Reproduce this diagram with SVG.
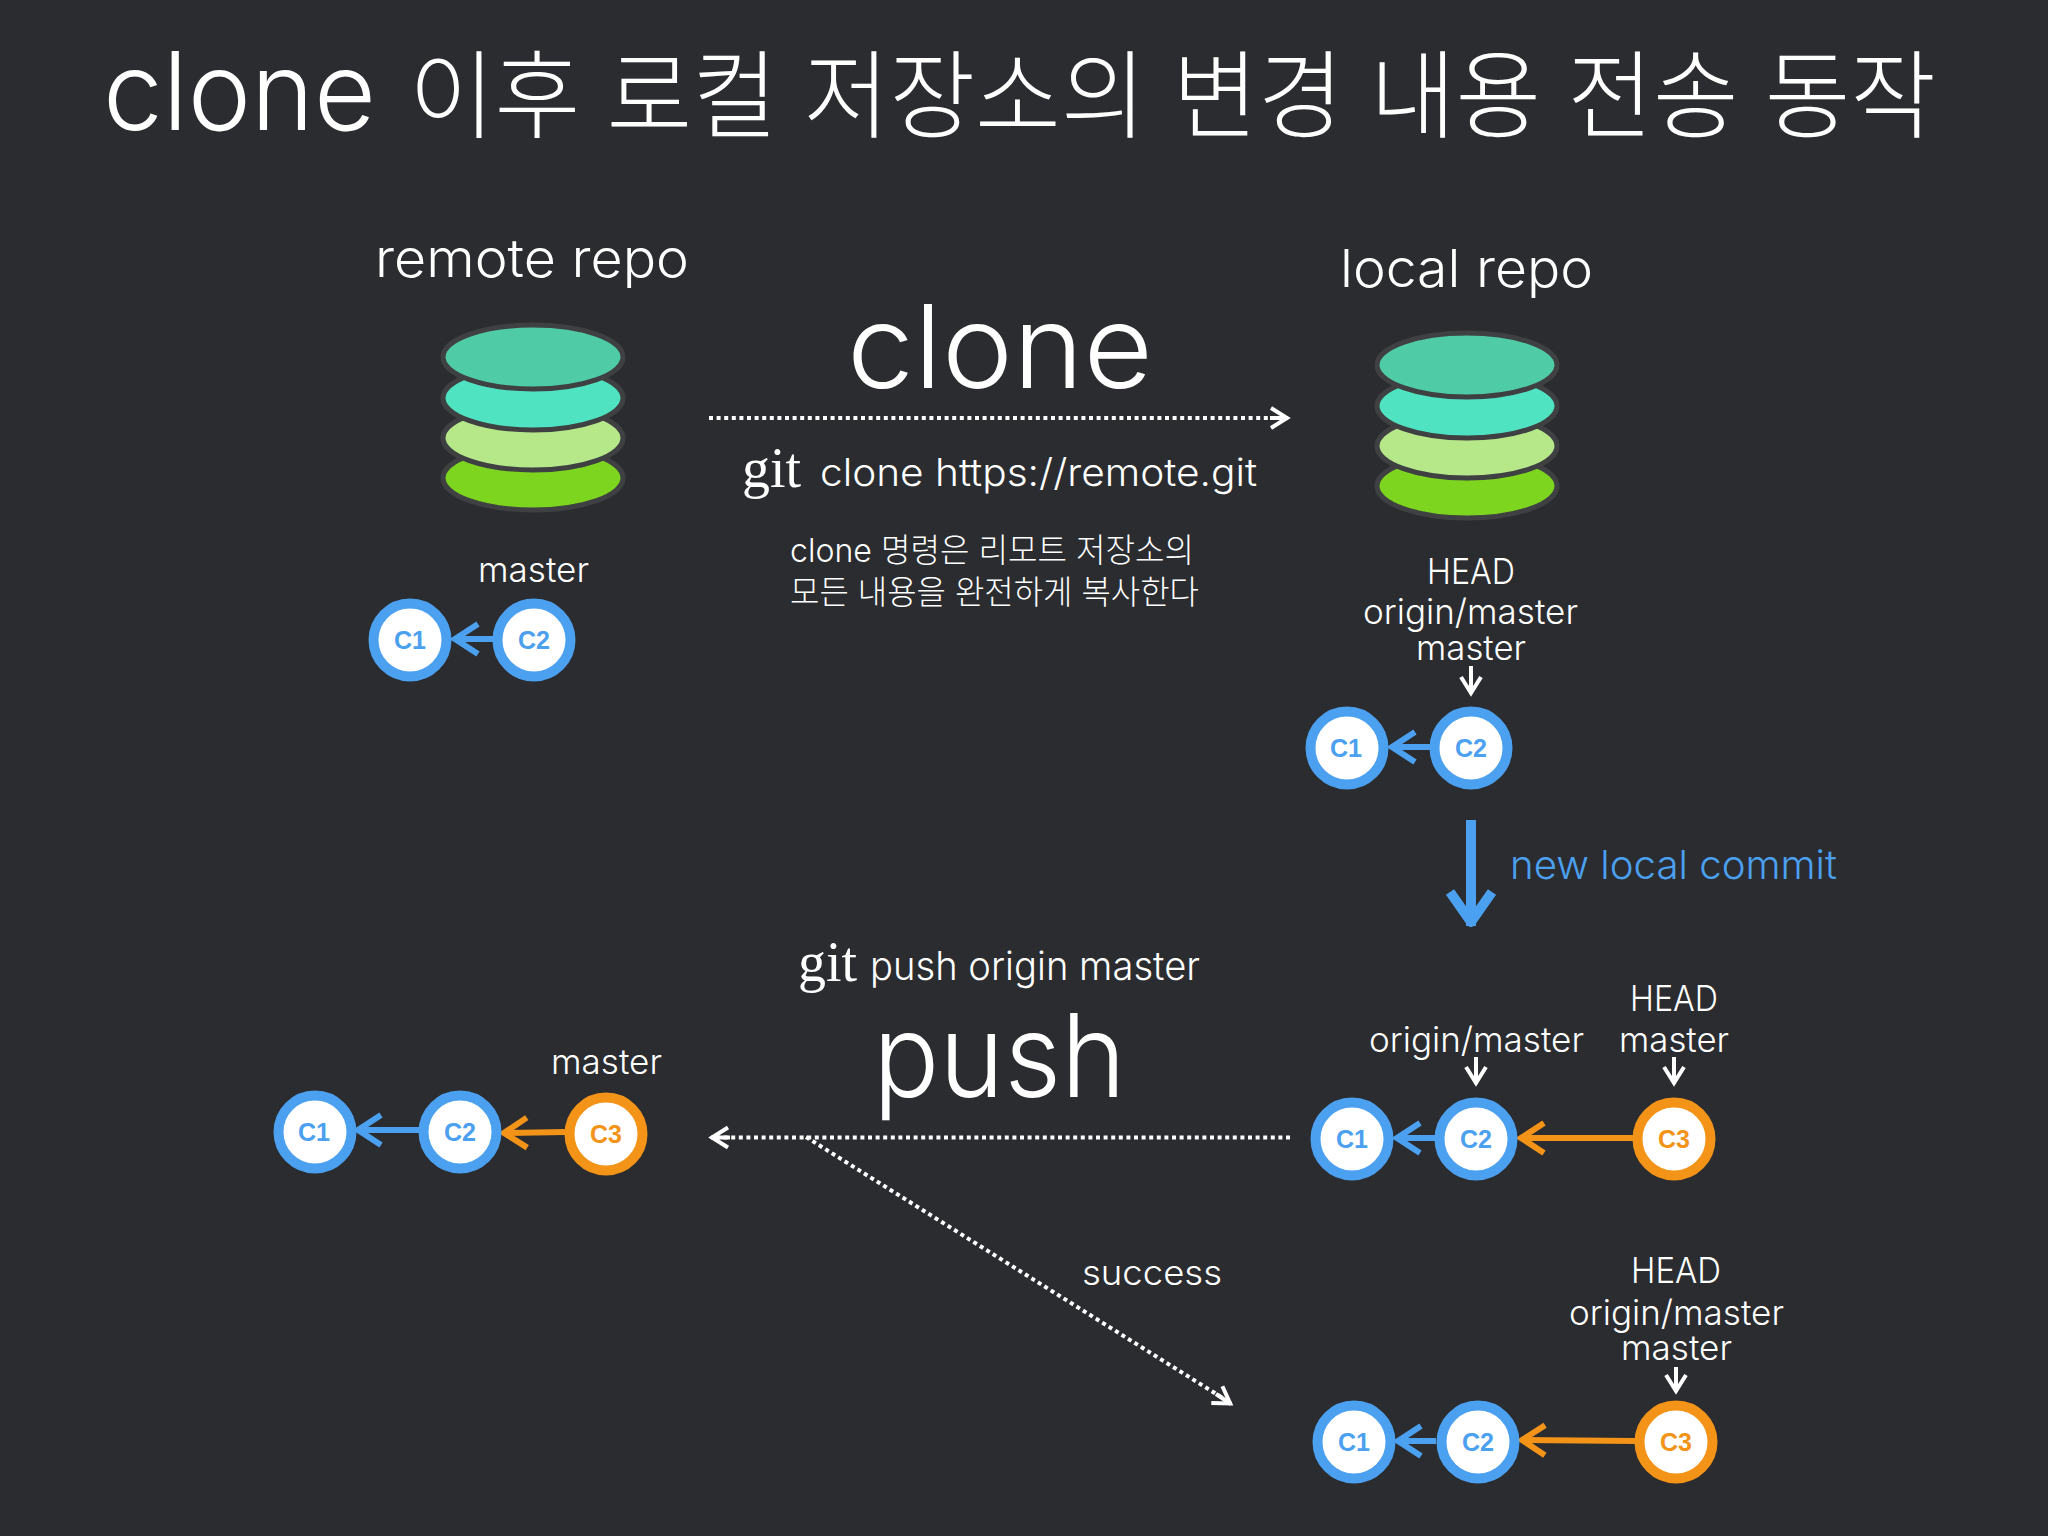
<svg xmlns="http://www.w3.org/2000/svg" width="2048" height="1536" viewBox="0 0 2048 1536">
<style>
text{font-family:"Inter","Noto Sans CJK KR",sans-serif;font-weight:300;fill:#fff}
.git{font-family:"Liberation Serif",serif;font-weight:400}
.lbl{font-size:35px}
.ring{fill:#fff;stroke-width:10}
.blue .ring{stroke:#4ca0f0}.orange .ring{stroke:#f39318}
.cm{font-family:"Liberation Sans",sans-serif;font-weight:700;font-size:25px;text-anchor:middle}
.blue .cm{fill:#4ca0f0}.orange .cm{fill:#f39318}
.d{fill:none;stroke:#fff;stroke-width:4;stroke-dasharray:4 3.6}
.w{fill:none;stroke:#fff;stroke-width:4}
.l{fill:none;stroke-width:6}
.lb{stroke:#4ca0f0}.lo{stroke:#f39318}
.db ellipse{stroke:#3f4042;stroke-width:5}
</style>
<defs>
<marker id="mb" markerUnits="userSpaceOnUse" markerWidth="32" markerHeight="40" viewBox="0 0 32 40" refX="29" refY="20" orient="auto"><path d="M5 5L28 20L5 35" fill="none" stroke="#4ca0f0" stroke-width="6"/></marker>
<marker id="mo" markerUnits="userSpaceOnUse" markerWidth="32" markerHeight="40" viewBox="0 0 32 40" refX="29" refY="20" orient="auto"><path d="M5 5L28 20L5 35" fill="none" stroke="#f39318" stroke-width="6"/></marker>
<marker id="mw" markerUnits="userSpaceOnUse" markerWidth="24" markerHeight="28" viewBox="0 0 24 28" refX="21" refY="14" orient="auto"><path d="M4 4L20 14L4 24" fill="none" stroke="#fff" stroke-width="4"/></marker>
<marker id="mbig" markerUnits="userSpaceOnUse" markerWidth="50" markerHeight="60" viewBox="0 0 50 60" refX="42" refY="30" orient="auto"><path d="M8 9L38 30L8 51" fill="none" stroke="#4ca0f0" stroke-width="10" stroke-linejoin="round"/></marker>
</defs>
<rect width="2048" height="1536" fill="#2a2c30"/>
<text id="title" y="130" font-size="96"><tspan x="103" font-size="108" textLength="273" lengthAdjust="spacingAndGlyphs">clone</tspan> <tspan x="409" textLength="1527" lengthAdjust="spacingAndGlyphs">이후 로컬 저장소의 변경 내용 전송 동작</tspan></text>
<g id="connectors">
<path class="l lb" d="M493 639H454" marker-end="url(#mb)"/>
<path class="l lb" d="M1430 747H1391" marker-end="url(#mb)"/>
<path class="l lb" d="M419 1130H357" marker-end="url(#mb)"/>
<path class="l lo" d="M565 1132L503 1133" marker-end="url(#mo)"/>
<path class="l lb" d="M1435 1138H1396" marker-end="url(#mb)"/>
<path class="l lo" d="M1633 1138H1520" marker-end="url(#mo)"/>
<path class="l lb" d="M1436 1441H1397" marker-end="url(#mb)"/>
<path class="l lo" d="M1635 1441L1521 1440" marker-end="url(#mo)"/>
<path class="d" d="M709 418H1285"/><path class="w" d="M1270 418H1288" marker-end="url(#mw)"/>
<path class="d" d="M1290 1137.500H714"/><path class="w" d="M730 1137.500H711" marker-end="url(#mw)"/>
<path class="d" d="M806 1137L1229 1402"/><path class="w" d="M1216 1394L1231 1404" marker-end="url(#mw)"/>
<path class="w" d="M1471 666V694" marker-end="url(#mw)"/>
<path class="w" d="M1476 1057V1084" marker-end="url(#mw)"/>
<path class="w" d="M1674 1057V1084" marker-end="url(#mw)"/>
<path class="w" d="M1676 1367V1392" marker-end="url(#mw)"/>
<path fill="none" stroke="#4ca0f0" stroke-width="10" d="M1471 820V926" marker-end="url(#mbig)"/>
</g>
<g id="remote-repo">
<text x="375" y="277" font-size="52" textLength="314" lengthAdjust="spacingAndGlyphs">remote repo</text>
<g class="db"><ellipse cx="533" cy="478" rx="90" ry="32" fill="#7dd51f"/><ellipse cx="533" cy="438" rx="90" ry="32" fill="#b6e88a"/><ellipse cx="533" cy="398" rx="90" ry="32" fill="#50e3c2"/><ellipse cx="533" cy="357" rx="90" ry="32" fill="#4fcba5"/></g>
<text class="lbl" x="478" y="582" textLength="111" lengthAdjust="spacingAndGlyphs">master</text>
</g>
<g id="local-repo">
<text x="1340" y="287" font-size="52" textLength="253" lengthAdjust="spacingAndGlyphs">local repo</text>
<g class="db"><ellipse cx="1467" cy="486" rx="90" ry="32" fill="#7dd51f"/><ellipse cx="1467" cy="446" rx="90" ry="32" fill="#b6e88a"/><ellipse cx="1467" cy="406" rx="90" ry="32" fill="#50e3c2"/><ellipse cx="1467" cy="365" rx="90" ry="32" fill="#4fcba5"/></g>
<text class="lbl" x="1427" y="584" textLength="88" lengthAdjust="spacingAndGlyphs">HEAD</text>
<text class="lbl" x="1363" y="624" textLength="215" lengthAdjust="spacingAndGlyphs">origin/master</text>
<text class="lbl" x="1416" y="660" textLength="110" lengthAdjust="spacingAndGlyphs">master</text>
</g>
<g id="clone-label">
<text x="847" y="388" font-size="116" textLength="306" lengthAdjust="spacingAndGlyphs">clone</text>
<text class="git" x="742" y="487" font-size="58" textLength="59" lengthAdjust="spacingAndGlyphs">git</text>
<text x="820" y="486" font-size="38" textLength="437" lengthAdjust="spacingAndGlyphs">clone https://remote.git</text>
<text x="790" y="562" font-size="33" textLength="404" lengthAdjust="spacingAndGlyphs">clone 명령은 리모트 저장소의</text>
<text x="790" y="604" font-size="33" textLength="409" lengthAdjust="spacingAndGlyphs">모든 내용을 완전하게 복사한다</text>
</g>
<text id="new-local-commit" x="1510" y="879" font-size="40" textLength="327" lengthAdjust="spacingAndGlyphs" style="fill:#4ca0f0">new local commit</text>
<g id="push-label">
<text class="git" x="798" y="981" font-size="58" textLength="59" lengthAdjust="spacingAndGlyphs">git</text>
<text x="870" y="980" font-size="39" textLength="330" lengthAdjust="spacingAndGlyphs">push origin master</text>
<text x="873" y="1097" font-size="116" textLength="253" lengthAdjust="spacingAndGlyphs">push</text>
</g>
<text class="lbl" id="master-pushed" x="551" y="1074" textLength="111" lengthAdjust="spacingAndGlyphs">master</text>
<text class="lbl" id="success" x="1082" y="1285" textLength="140" lengthAdjust="spacingAndGlyphs">success</text>
<g id="labels-after-commit">
<text class="lbl" x="1369" y="1052" textLength="215" lengthAdjust="spacingAndGlyphs">origin/master</text>
<text class="lbl" x="1630" y="1011" textLength="88" lengthAdjust="spacingAndGlyphs">HEAD</text>
<text class="lbl" x="1619" y="1052" textLength="110" lengthAdjust="spacingAndGlyphs">master</text>
</g>
<g id="labels-after-push">
<text class="lbl" x="1631" y="1283" textLength="90" lengthAdjust="spacingAndGlyphs">HEAD</text>
<text class="lbl" x="1569" y="1325" textLength="215" lengthAdjust="spacingAndGlyphs">origin/master</text>
<text class="lbl" x="1621" y="1360" textLength="111" lengthAdjust="spacingAndGlyphs">master</text>
</g>
<g id="r1-c1" class="blue"><circle class="ring" cx="410" cy="640" r="36.500"/><text class="cm" x="410" y="649">C1</text></g>
<g id="r1-c2" class="blue"><circle class="ring" cx="534" cy="640" r="36.500"/><text class="cm" x="534" y="649">C2</text></g>
<g id="l1-c1" class="blue"><circle class="ring" cx="1347" cy="748" r="36.500"/><text class="cm" x="1346" y="757">C1</text></g>
<g id="l1-c2" class="blue"><circle class="ring" cx="1471" cy="748" r="36.500"/><text class="cm" x="1471" y="757">C2</text></g>
<g id="r2-c1" class="blue"><circle class="ring" cx="315" cy="1132" r="36.500"/><text class="cm" x="314" y="1141">C1</text></g>
<g id="r2-c2" class="blue"><circle class="ring" cx="460" cy="1132" r="36.500"/><text class="cm" x="460" y="1141">C2</text></g>
<g id="r2-c3" class="orange"><circle class="ring" cx="606" cy="1134" r="36.500"/><text class="cm" x="606" y="1143">C3</text></g>
<g id="l2-c1" class="blue"><circle class="ring" cx="1352" cy="1139" r="36.500"/><text class="cm" x="1352" y="1148">C1</text></g>
<g id="l2-c2" class="blue"><circle class="ring" cx="1476" cy="1139" r="36.500"/><text class="cm" x="1476" y="1148">C2</text></g>
<g id="l2-c3" class="orange"><circle class="ring" cx="1674" cy="1139" r="36.500"/><text class="cm" x="1674" y="1148">C3</text></g>
<g id="l3-c1" class="blue"><circle class="ring" cx="1354" cy="1442" r="36.500"/><text class="cm" x="1354" y="1451">C1</text></g>
<g id="l3-c2" class="blue"><circle class="ring" cx="1478" cy="1442" r="36.500"/><text class="cm" x="1478" y="1451">C2</text></g>
<g id="l3-c3" class="orange"><circle class="ring" cx="1676" cy="1442" r="36.500"/><text class="cm" x="1676" y="1451">C3</text></g>
</svg>
